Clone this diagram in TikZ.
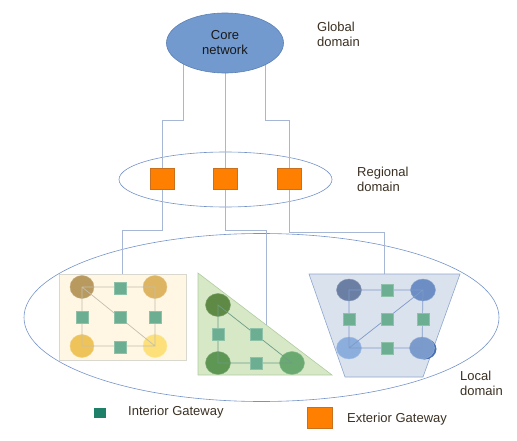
\documentclass[tikz,border=0pt]{standalone}
\usepackage{fontspec}
\setmainfont{Liberation Sans}
\usetikzlibrary{shapes.geometric,calc}
\definecolor{coreblue}{HTML}{729ACF}
\definecolor{coreedge}{HTML}{5B80B6}
\definecolor{connc}{HTML}{A6B7D6}
\definecolor{domc}{HTML}{7593C8}
\definecolor{egfill}{HTML}{FF8000}
\definecolor{egedge}{HTML}{C8701E}
\definecolor{igfill}{HTML}{6CAE92}
\definecolor{igedge}{HTML}{8EC2A8}
\definecolor{lblc}{HTML}{3A3022}
\definecolor{rectfill}{HTML}{FFF7E3}
\definecolor{rectedge}{HTML}{D8D8CE}
\definecolor{trifill}{HTML}{D6E8C6}
\definecolor{triedge}{HTML}{B0CCA0}
\definecolor{trapfill}{HTML}{DAE2EE}
\definecolor{trapedge}{HTML}{8EA6CE}
\definecolor{ya1}{HTML}{B8995E}
\definecolor{ya2}{HTML}{DDB462}
\definecolor{ya3}{HTML}{EEC35A}
\definecolor{ya4}{HTML}{FDE07A}
\definecolor{yline}{HTML}{C4BEB0}
\definecolor{gb1}{HTML}{5F8A45}
\definecolor{gb2}{HTML}{5E9653}
\definecolor{gb3}{HTML}{6AAA70}
\definecolor{gline}{HTML}{6E9C86}
\definecolor{bc1}{HTML}{6A7FA3}
\definecolor{bc2}{HTML}{6C8EC4}
\definecolor{bc3}{HTML}{8CAEDD}
\definecolor{bc4}{HTML}{7A9BCB}
\definecolor{bc4s}{HTML}{4870B4}
\definecolor{bline}{HTML}{7E9AC8}
\definecolor{legig}{HTML}{1E8068}
\tikzset{
  conn/.style={draw=connc, line width=0.7pt},
  dom/.style={draw=domc, line width=0.6pt},
  egw/.style={rectangle, fill=egfill, draw=egedge, line width=0.5pt, minimum width=24pt, minimum height=21pt, inner sep=0pt},
  igw/.style={rectangle, fill=igfill, draw=igedge, line width=0.4pt, minimum width=12.5pt, minimum height=12pt, inner sep=0pt},
  host/.style={ellipse, inner sep=0pt, minimum width=24pt, minimum height=23pt, draw=#1!80!white, line width=0.4pt, fill=#1},
  lbl/.style={font=\fontsize{13}{15}\selectfont, text=lblc, align=left, inner sep=0pt, anchor=north west},
}
\begin{document}
\begin{tikzpicture}[x=1pt,y=-1pt]
\useasboundingbox (0,0) rectangle (517,441);
% local domain ellipse
\node[dom, ellipse, minimum width=475pt, minimum height=168pt, inner sep=0pt] (local) at (261.5,317.5) {};
% regional domain ellipse
\node[dom, ellipse, minimum width=213pt, minimum height=55pt, inner sep=0pt] (regional) at (225.5,179.5) {};
% exterior gateways
\node[egw] (e1) at (162.5,179) {};
\node[egw] (e2) at (225,179) {};
\node[egw] (e3) at (289.5,179) {};
% core
\coordinate (corec) at (225,43);
\coordinate (k1) at (183,120);
\coordinate (k3) at (265,120);
\draw[conn] (k1 |- corec) -- (k1) -| (e1);
\draw[conn] (corec) -- (e2);
\draw[conn] (k3 |- corec) -- (k3) -| (e3);
\node[ellipse, fill=coreblue, draw=coreedge, line width=0.6pt, minimum width=117pt, minimum height=60pt, inner sep=0pt, align=center, font=\fontsize{13}{15}\selectfont, text=black!90] (core) at (corec) {Core\\network};
% lower connectors
\coordinate (k4) at (122.5,230);
\coordinate (k5) at (266,230);
\coordinate (k6) at (266,324.8);
\coordinate (k7) at (384.5,232);
\coordinate (k8) at (384.5,274);
% yellow domain rectangle
\node[rectangle, fill=rectfill, draw=rectedge, line width=0.8pt, minimum width=127pt, minimum height=86pt, inner sep=0pt] (rect) at (122.5,317) {};
\draw[conn] (e1) |- (k4) -- (rect);
\draw[conn] (e2) |- (k5) -- (k6);
\draw[conn] (e3) |- (k7) -- (k8);
% triangle
\coordinate (t1) at (198,273);
\coordinate (t2) at (198,375);
\coordinate (t3) at (332,375);
\filldraw[fill=trifill, draw=triedge, line width=0.6pt] (t1) -- (t2) -- (t3) -- cycle;
% trapezoid
\coordinate (p1) at (309,274);
\coordinate (p2) at (460,274);
\coordinate (p3) at (423,377);
\coordinate (p4) at (345,377);
\filldraw[fill=trapfill, draw=trapedge, line width=0.6pt] (p1) -- (p2) -- (p3) -- (p4) -- cycle;
% yellow graph
\node[host=ya1] (a1) at (82,287) {};
\node[host=ya2] (a2) at (155,287) {};
\node[host=ya3] (a3) at (82,346) {};
\node[host=ya4] (a4) at (155,346) {};
\draw[draw=yline, line width=0.7pt] (a1.center) -- (a2.center) -- (a4.center) -- (a3.center) -- cycle (a1.center) -- (a4.center);
\node[igw] (ya) at (120,288) {};
\node[igw] (yb) at (82,317) {};
\node[igw] (yc) at (120,317) {};
\node[igw] (yd) at (155,317) {};
\node[igw] (ye) at (120,347) {};
% green graph
\node[host=gb1, minimum width=25pt] (b1) at (218,305) {};
\node[host=gb2, minimum width=25pt] (b2) at (218,363) {};
\node[host=gb3, minimum width=25pt] (b3) at (292,363) {};
\draw[draw=gline, line width=0.7pt] (b1.center) -- (b2.center) -- (b3.center) -- cycle;
\node[igw] (ga) at (218,334) {};
\node[igw] (gb) at (256,334) {};
\node[igw] (gc) at (256,363) {};
% blue graph
\node[fill=bc4s, ellipse, inner sep=0pt, minimum width=24pt, minimum height=21pt] (c4s) at (424.5,349) {};
\node[host=bc1, minimum width=25pt, minimum height=22pt] (c1) at (349,290) {};
\node[host=bc2, minimum width=25pt, minimum height=22pt] (c2) at (423,290) {};
\node[host=bc3, minimum width=25pt, minimum height=22pt] (c3) at (349,348) {};
\node[host=bc4, minimum width=25pt, minimum height=22pt] (c4) at (422,348) {};
\draw[draw=bline, line width=0.7pt] (c1.center) -- (c2.center) -- (c4.center) -- (c3.center) -- cycle (c3.center) -- (c2.center);
\node[igw] (ba) at (387,290) {};
\node[igw] (bb) at (349,319) {};
\node[igw] (bc) at (387,319) {};
\node[igw] (bd) at (423,319) {};
\node[igw] (be) at (387,348) {};
% labels
\node[lbl] (lg) at (317,22) {Global\\domain};
\node[lbl] (lr) at (357,167) {Regional\\domain};
\node[lbl] (ll) at (460,371) {Local\\domain};
% legend
\node[rectangle, fill=legig, minimum width=12pt, minimum height=10pt, inner sep=0pt] (legi) at (99.5,413) {};
\node[lbl, anchor=west] (legit) at (128,412.5) {Interior Gateway};
\node[egw, minimum width=25pt] (lege) at (319.5,417.5) {};
\node[lbl, anchor=west] (leget) at (347,419) {Exterior Gateway};
\end{tikzpicture}
\end{document}
